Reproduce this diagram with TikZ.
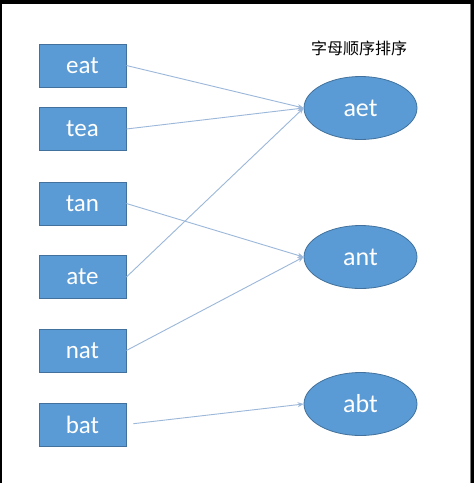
\documentclass[tikz,border=0pt]{standalone}
\usepackage{fontspec}
\setmainfont{Carlito}
\newfontfamily\cjk{Noto Sans CJK SC}
\usetikzlibrary{shapes.geometric,arrows.meta}
\definecolor{boxblue}{HTML}{5B9BD5}
\definecolor{boxedge}{HTML}{41719C}
\definecolor{linkblue}{HTML}{9BB7D9}
\tikzset{
  word/.style={rectangle,fill=boxblue,draw=boxedge,line width=0.8pt,minimum width=87pt,minimum height=43pt,inner sep=0pt,text=white,font=\fontsize{25}{25}\selectfont},
  key/.style={ellipse,fill=boxblue,draw=boxedge,line width=0.8pt,minimum width=113pt,minimum height=63pt,inner sep=0pt,text=white,font=\fontsize{26}{26}\selectfont},
  link/.style={draw=linkblue,line width=0.9pt,-{Stealth[length=6pt,width=5pt]}}
}
\begin{document}
\begin{tikzpicture}[x=1pt,y=-1pt]
\useasboundingbox (0,0) rectangle (474,483);
\fill[white] (0,0) rectangle (474,483);
\fill[black] (0,0) rectangle (474,4);
\fill[black] (0,0) rectangle (2,483);
\fill[black] (471,0) rectangle (474,483);
\fill[gray] (469.5,4) rectangle (471,483);
\node[word] (eat) at (82.5,65.5) {eat};
\node[word] (tea) at (82.5,129) {tea};
\node[word] (tan) at (82.5,203.5) {tan};
\node[word] (ate) at (82.5,277) {ate};
\node[word] (nat) at (82.5,350.5) {nat};
\node[word] (bat) at (82.5,424.5) {bat};
\node[key] (aet) at (360.5,108) {aet};
\node[key] (ant) at (360.5,257) {ant};
\node[key] (abt) at (360.5,404) {abt};
\node[font=\cjk\fontsize{16}{16}\selectfont] (title) at (359,48) {字母顺序排序};
\draw[link] (eat.east) -- (aet.west);
\draw[link] (tea.east) -- (aet.west);
\draw[link] (ate.east) -- (aet.west);
\draw[link] (tan.east) -- (ant.west);
\draw[link] (nat.east) -- (ant.west);
\draw[link,shorten <=7pt] (bat.east) -- (abt.west);
\end{tikzpicture}
\end{document}
